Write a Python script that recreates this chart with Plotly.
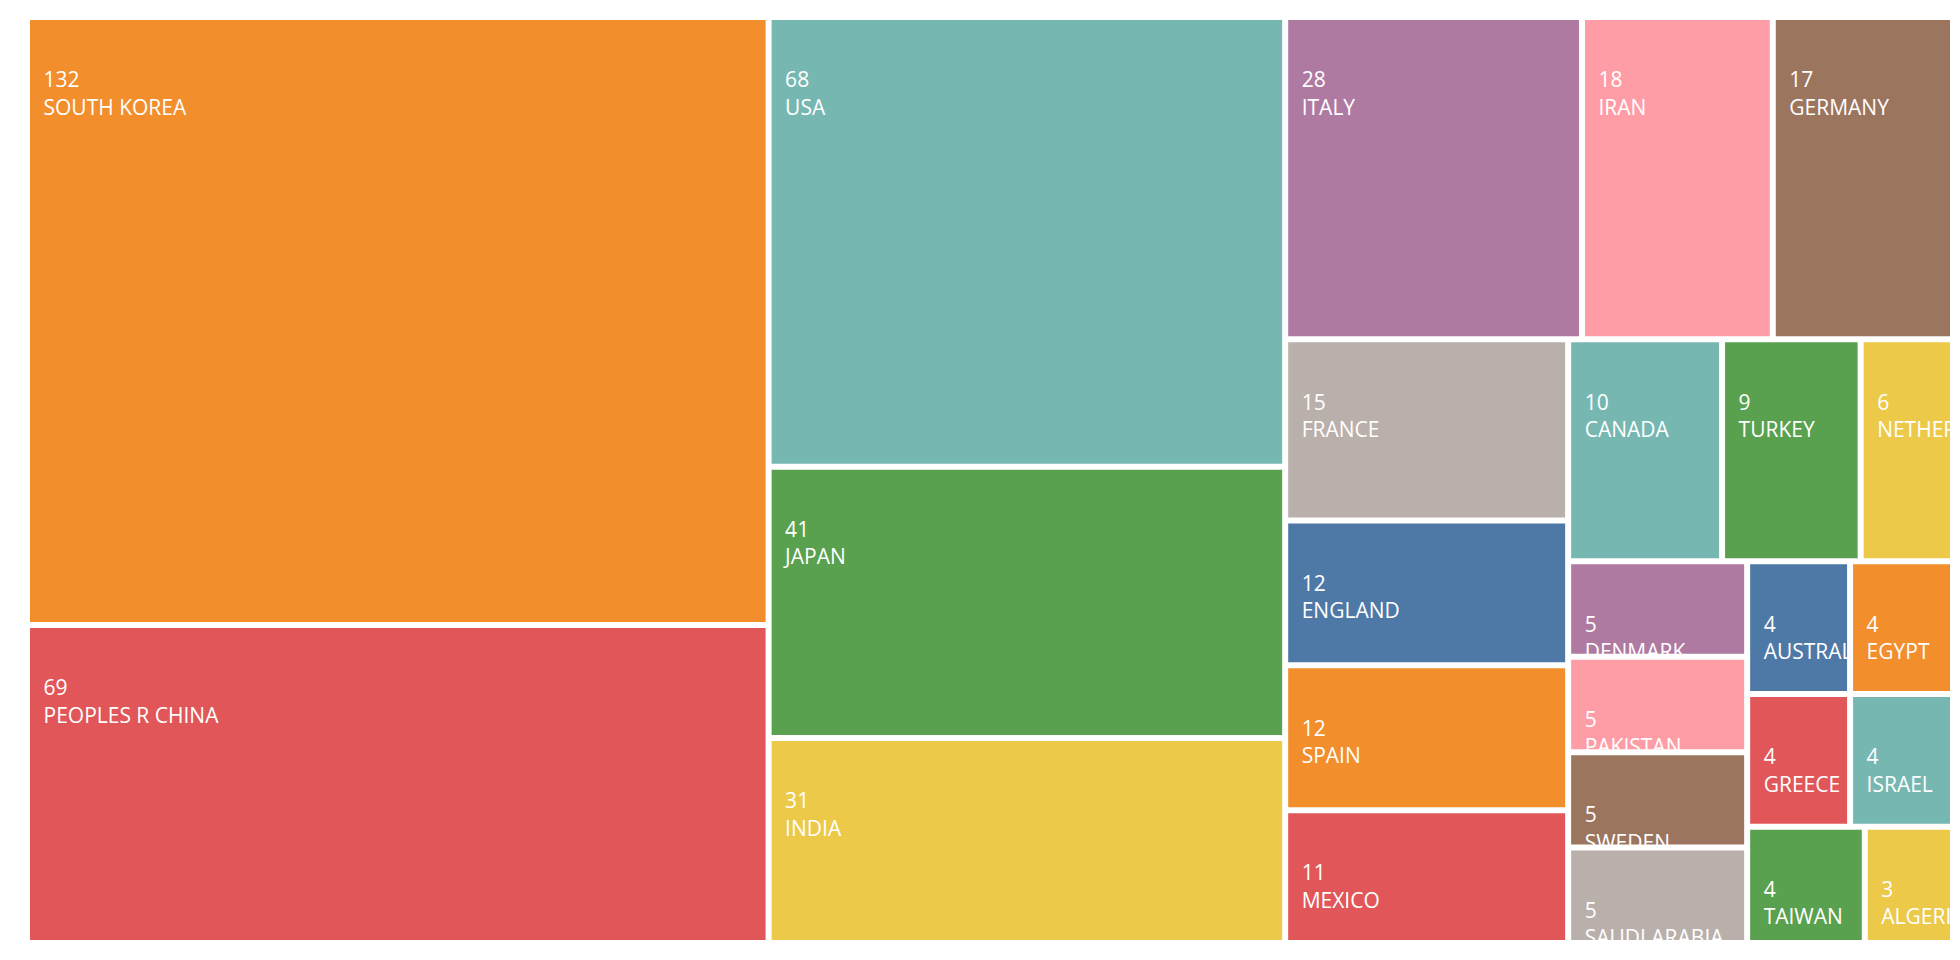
import plotly.graph_objects as go

countries = ["SOUTH KOREA", "PEOPLES R CHINA", "USA", "JAPAN", "INDIA", "ITALY", "IRAN",
             "GERMANY", "FRANCE", "ENGLAND", "SPAIN", "MEXICO", "CANADA", "TURKEY",
             "NETHERLANDS", "DENMARK", "PAKISTAN", "SWEDEN", "SAUDI ARABIA", "AUSTRALIA",
             "EGYPT", "GREECE", "ISRAEL", "TAIWAN", "ALGERIA"]
counts = [132, 69, 68, 41, 31, 28, 18, 17, 15, 12, 12, 11, 10, 9, 6, 5, 5, 5, 5, 4, 4, 4, 4, 4, 3]

palette = ["#f28e2c", "#e15759", "#76b7b2", "#59a14f", "#edc949",
           "#af7aa1", "#ff9da7", "#9c755f", "#bab0ab", "#4e79a7"]
colors = [palette[i % len(palette)] for i in range(len(countries))]

ind = "\u2002"
fig = go.Figure(go.Treemap(
    labels=countries,
    parents=[""] * len(countries),
    values=counts,
    sort=True,
    marker=dict(colors=colors, line=dict(width=0), pad=dict(t=0, l=0, r=0, b=0)),
    tiling=dict(packing="squarify", squarifyratio=1.618, pad=6),
    pathbar=dict(visible=False),
    texttemplate="<span style='font-size:35px'>\u00a0</span><br>" + ind + "%{value}<br>" + ind + "%{label}",
    textposition="top left",
    textfont=dict(family="Open Sans", size=21, color="white"),
    hoverinfo="label+value",
))
fig.update_layout(
    width=1960, height=960,
    margin=dict(l=22, r=18, t=12, b=28),
    paper_bgcolor="white",
    uniformtext=dict(minsize=21, mode="show"),
)
fig.write_html("out.html")
